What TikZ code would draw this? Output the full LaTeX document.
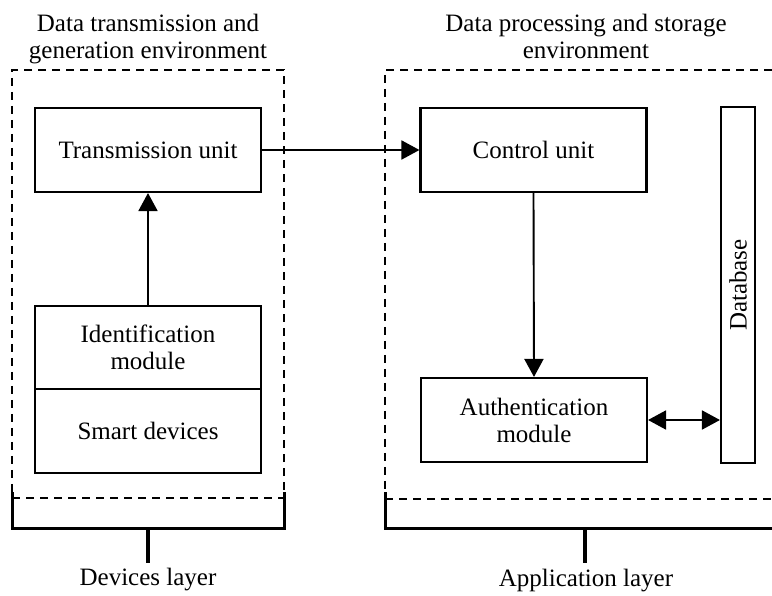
\documentclass[tikz,border=0pt]{standalone}
\usepackage{fontspec}
\setmainfont{Liberation Serif}
\usetikzlibrary{arrows.meta}
\begin{document}
\begin{tikzpicture}[x=1pt,y=-1pt,
  font=\fontsize{25}{27}\selectfont,
  envbox/.style={draw, line width=2pt, dash pattern=on 8pt off 6pt, inner sep=0pt},
  unitbox/.style={draw, line width=2.1pt, minimum width=226pt, minimum height=84pt, align=center, inner sep=0pt},
  arr/.style={line width=1.9pt, -{Triangle[length=18pt,width=19pt]}},
  darr/.style={line width=1.9pt, {Triangle[length=18pt,width=19pt]}-{Triangle[length=18pt,width=19pt]}},
  bracket/.style={line width=3pt},
  stem/.style={line width=4pt},
  title/.style={align=center, inner sep=0pt}
]
\useasboundingbox (0,0) rectangle (772,596);
\clip (0,0) rectangle (772,596);

% environments
\node[envbox, minimum width=272pt, minimum height=428pt] (envL) at (148,284) {};
\node[envbox, minimum width=420pt, minimum height=429pt] (envR) at (595,284.5) {};

\node[title] (tL) at (148,39) {Data transmission and\\generation environment};
\node[title] (tR) at (586,36.5) {Data processing and storage\\environment};

% left units
\node[unitbox] (trans) at (148,150) {Transmission unit};
\node[unitbox, minimum height=83pt] (ident) at (148,347.5) {Identification\\module};
\node[unitbox, minimum height=84pt] (smart) at (148,431) {Smart devices};

% right units
\node[unitbox] (ctrl) at (533.5,150) {Control unit};
\node[unitbox] (auth) at (534,420) {Authentication\\module};
\node[draw, line width=2.1pt, minimum width=34pt, minimum height=356pt, inner sep=0pt] (db) at (738,285) {};
\node[rotate=90, inner sep=0pt] (dbt) at (db.center) {Database};

% connectors
\draw[arr] (ident.north) -- (trans.south);
\draw[arr] (trans.east) -- (ctrl.west);
\draw[arr] (ctrl.south) -- (auth.north);
\draw[darr] (auth.east) -- (auth.east -| db.west);

% brackets
\coordinate (bl1) at (12,492);
\coordinate (bl2) at (284,492);
\draw[bracket] (bl1) -- (12,528) -- (284,528) -- (bl2);
\coordinate (bls) at (148,528);
\node[anchor=base, inner sep=0pt] (devl) at (148,585) {Devices layer};
\draw[stem] (bls) -- (148,563);

\coordinate (br1) at (385,492);
\draw[bracket] (br1) -- (385,528) -- (780,528);
\coordinate (brs) at (585,528);
\node[anchor=base, inner sep=0pt] (appl) at (586,586) {Application layer};
\draw[stem] (brs) -- (585,563);
\end{tikzpicture}
\end{document}
